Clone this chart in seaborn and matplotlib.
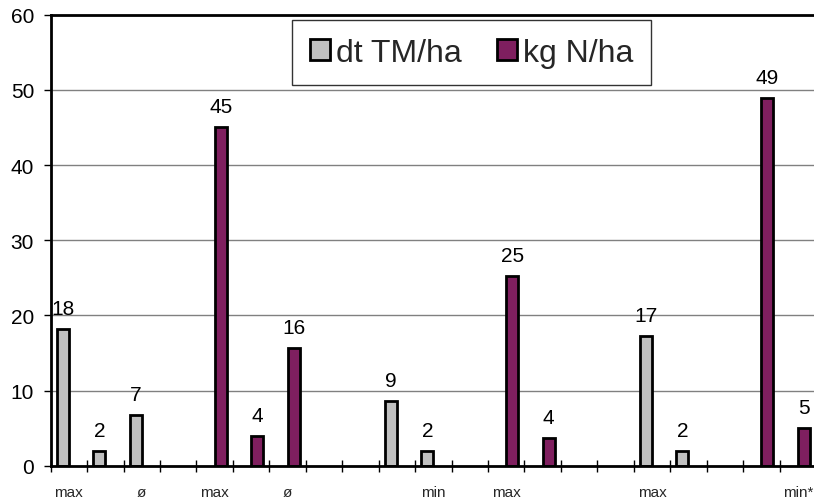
import numpy as np
import pandas as pd
import matplotlib
matplotlib.use("Agg")
import matplotlib.pyplot as plt
import seaborn as sns
from matplotlib.patches import Patch

# ---- data ----
categories = [f"c{i}" for i in range(21)]
tick_labels = ["max", "", "ø", "", "max", "", "ø", "", "", "", "min",
               "", "max", "", "", "", "max", "", "", "", "min*"]
dt_tm = [18.2, 1.95, 6.7, np.nan, np.nan, np.nan, np.nan, np.nan, np.nan, 8.6, 2.0,
         np.nan, np.nan, np.nan, np.nan, np.nan, 17.3, 2.0, np.nan, np.nan, np.nan]
kg_n = [np.nan, np.nan, np.nan, np.nan, 45.0, 4.0, 15.6, np.nan, np.nan, np.nan, np.nan,
        np.nan, 25.2, 3.7, np.nan, np.nan, np.nan, np.nan, np.nan, 48.9, 5.0]
series_names = ["dt TM/ha", "kg N/ha"]
colors = ["#C0C0C0", "#7F1F5F"]

df = pd.DataFrame({
    "cat": categories * 2,
    "series": [series_names[0]] * 21 + [series_names[1]] * 21,
    "value": dt_tm + kg_n,
})

sns.set_theme(style="white")
plt.rcParams["font.family"] = ["Liberation Sans", "DejaVu Sans"]

fig = plt.figure(figsize=(8.14, 5.02), dpi=100)
ax = fig.add_axes([50.7 / 814, 1 - 466.7 / 502, (816 - 50.7) / 814, (466.7 - 15.7) / 502])

sns.barplot(data=df, x="cat", y="value", hue="series", order=categories,
            hue_order=series_names, palette=colors, width=0.66, dodge=True,
            edgecolor="black", linewidth=2, errorbar=None, legend=False, ax=ax,
            saturation=1)

# data labels
for p in ax.patches:
    h = p.get_height()
    if h is None or np.isnan(h) or h <= 0:
        continue
    ax.annotate(f"{round(h):d}", (p.get_x() + p.get_width() / 2, h),
                xytext=(0, 8), textcoords="offset points",
                ha="center", va="bottom", fontsize=15, color="black")

ax.set_xlim(-0.5, 20.5)
ax.set_ylim(0, 60)
ax.set_yticks(np.arange(0, 61, 10))
ax.tick_params(axis="y", labelsize=15, length=5, width=1, direction="out", pad=7,
               left=True, colors="black")
ax.set_xticks(range(21))
ax.set_xticklabels(tick_labels, fontsize=11)
ax.tick_params(axis="x", which="major", length=0, pad=14)
ax.set_xticks(np.arange(-0.5, 20.6, 1), minor=True)
ax.tick_params(axis="x", which="minor", length=8, width=1, direction="inout",
               bottom=True, color="black")
ax.set_xlabel("")
ax.set_ylabel("")

ax.grid(axis="y", color="#808080", linewidth=1)
ax.set_axisbelow(True)
for s in ["left", "bottom", "top"]:
    ax.spines[s].set_visible(True)
    ax.spines[s].set_color("black")
    ax.spines[s].set_linewidth(2)
ax.spines["right"].set_visible(False)

handles = [Patch(facecolor=c, edgecolor="black", linewidth=2) for c in colors]
leg = ax.legend(handles, series_names, loc="upper left",
                bbox_to_anchor=((292 - 50.7) / (816 - 50.7), 1 - (21 - 15.7) / 451),
                ncol=2, fontsize=23, frameon=True, fancybox=False,
                handlelength=0.63, handleheight=0.63, handletextpad=0.19,
                columnspacing=1.1, borderpad=0.55, borderaxespad=0)
leg.get_frame().set_edgecolor("black")
leg.get_frame().set_linewidth(1)

fig.savefig("out.png", dpi=100)
